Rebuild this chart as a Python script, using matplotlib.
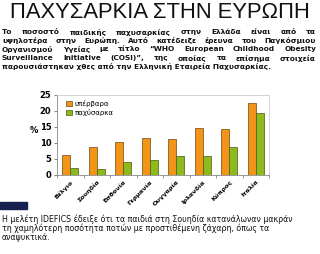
import matplotlib
matplotlib.use("Agg")
import matplotlib.pyplot as plt
import numpy as np

# data
countries = ["Βέλγιο", "Σουηδία", "Εσθονία", "Γερμανία",
             "Ουγγαρία", "Ιρλανδία", "Κύπρος", "Ιταλία"]
overweight = [6.3, 8.8, 10.3, 11.5, 11.2, 14.7, 14.5, 22.6]
obese = [2.3, 1.9, 4.1, 4.6, 6.0, 6.0, 8.8, 19.5]
series_names = ["υπέρβαρα", "παχύσαρκα"]
y_ticks = [0, 5, 10, 15, 20, 25]

title = "ΠΑΧΥΣΑΡΚΙΑ ΣΤΗΝ ΕΥΡΩΠΗ"
intro_lines = [
    "Το ποσοστό παιδικής παχυσαρκίας στην Ελλάδα είναι από τα",
    "υψηλοτέρα στην Ευρώπη. Αυτό κατέδειξε έρευνα του Παγκόσμιου",
    "Οργανισμού Υγείας με τίτλο “WHO European Childhood Obesity",
    "Surveillance Initiative (COSI)”, της οποίας τα επίσημα στοιχεία",
    "παρουσιάστηκαν χθες από την Ελληνική Εταιρεία Παχυσαρκίας.",
]
outro_lines = [
    "Η μελέτη IDEFICS έδειξε ότι τα παιδιά στη Σουηδία κατανάλωναν μακράν",
    "τη χαμηλότερη ποσότητα ποτών με προστιθέμενη ζάχαρη, όπως τα",
    "αναψυκτικά.",
]

W, H = 320, 254


def justify(fig, renderer, line, y, x0, x1, **kw):
    """Spread the words of one line between x0 and x1 (pixels)."""
    words = line.split()
    texts = [fig.text(0, y, w, va="center", ha="left", **kw) for w in words]
    widths = [t.get_window_extent(renderer).width for t in texts]
    gap = (x1 - x0 - sum(widths)) / (len(words) - 1)
    x = x0
    for t, w in zip(texts, widths):
        t.set_x(x / W)
        x += w + gap


fig = plt.figure(figsize=(3.2, 2.54), dpi=100)
fig.patch.set_facecolor("white")
renderer = fig.canvas.get_renderer()

fig.text(0.5, 1 - 13 / H, title, ha="center", va="center",
         fontsize=15.8, family="Liberation Sans", color="#111111")

para = dict(fontsize=5.3, fontweight="bold", family="DejaVu Sans",
            color="#111111")
for i, line in enumerate(intro_lines):
    y = 1 - (32 + i * 8.7) / H
    if i < len(intro_lines) - 1:
        justify(fig, renderer, line, y, 2, 316, **para)
    else:
        fig.text(2 / W, y, line, ha="left", va="center", **para)

for i, line in enumerate(outro_lines):
    fig.text(2 / W, 1 - (219 + i * 9.2) / H, line, ha="left", va="center",
             fontsize=5.7, family="DejaVu Sans", color="#111111")

# navy strip on the left
fig.patches.append(plt.Rectangle((0, 1 - 209 / H), 27 / W, 7 / H,
                                 transform=fig.transFigure,
                                 color="#14204d", zorder=5))

ax = fig.add_axes([57 / W, 1 - 175 / H, 212 / W, 80 / H])
x = np.arange(len(countries))
bw = 0.3
ax.bar(x - bw / 2, overweight, bw, color="#F39419",
       edgecolor="#6b4a10", linewidth=0.5, label=series_names[0])
ax.bar(x + bw / 2, obese, bw, color="#8DBA1C",
       edgecolor="#4a5a10", linewidth=0.5, label=series_names[1])

ax.set_xlim(-0.5, len(countries) - 0.5)
ax.set_ylim(0, 25)
ax.set_yticks(y_ticks)
ax.set_yticklabels([str(v) for v in y_ticks], fontsize=6, fontweight="bold")
ax.set_xticks(x)
ax.set_xticklabels(countries, rotation=45, ha="right", rotation_mode="anchor",
                   fontsize=4.6, fontweight="bold")
ax.set_xticks(np.arange(len(countries) + 1) - 0.5, minor=True)
ax.tick_params(axis="x", which="major", length=0, pad=3)
ax.tick_params(axis="x", which="minor", length=2, color="#888888")
ax.tick_params(axis="y", length=2, color="#888888", pad=2)
ax.set_ylabel("%", rotation=0, fontsize=6, fontweight="bold", labelpad=4)

for side in ["top", "right"]:
    ax.spines[side].set_color("#cccccc")
    ax.spines[side].set_linewidth(0.6)
for side in ["left", "bottom"]:
    ax.spines[side].set_color("#888888")
    ax.spines[side].set_linewidth(0.6)

ax.legend(loc="upper left", frameon=False, fontsize=5, handlelength=0.8,
          handleheight=0.8, handletextpad=0.4, labelspacing=0.3,
          borderaxespad=0.3, bbox_to_anchor=(0.02, 1.0))

fig.savefig("out.png", dpi=100)
